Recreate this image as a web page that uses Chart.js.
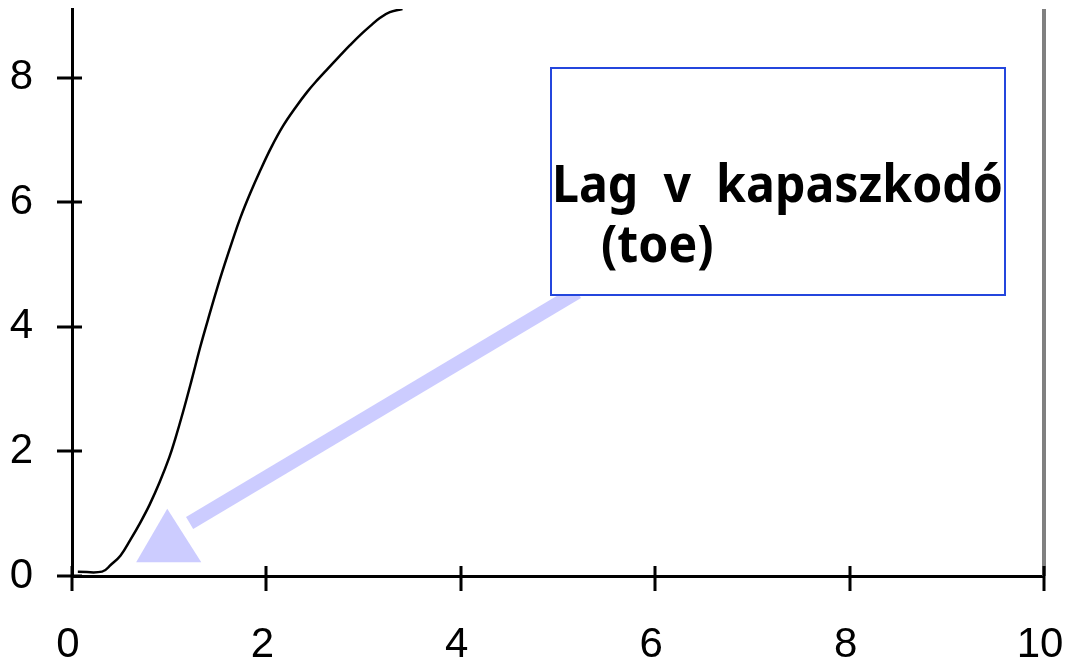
<!DOCTYPE html>
<html>
<head>
<meta charset="utf-8">
<script src="https://cdn.jsdelivr.net/npm/chart.js@4"></script>
<style>
    body { margin: 0; background: #fff; }
    .chart-wrap { width: 1067px; height: 661px; }
</style>
</head>
<body>
<div class="chart-wrap">
    <canvas id="toe-chart" width="1067" height="661"></canvas>
</div>
<script>
// strain (x) vs stress (y), the early "toe" part of the curve
const curveX = [0.06, 0.31, 0.40, 0.50, 0.60, 0.70, 0.80, 0.90, 1.00, 1.06, 1.14, 1.23, 1.32, 1.40, 1.49, 1.57,
    1.65, 1.73, 1.83, 1.94, 2.05, 2.17, 2.30, 2.42, 2.53, 2.63, 2.75, 2.86, 2.97, 3.07, 3.17, 3.27, 3.40];
const curveY = [0.07, 0.07, 0.18, 0.33, 0.58, 0.85, 1.15, 1.50, 1.90, 2.19, 2.62, 3.14, 3.68, 4.12, 4.60, 5.00,
    5.38, 5.74, 6.13, 6.52, 6.88, 7.22, 7.52, 7.77, 7.97, 8.14, 8.34, 8.52, 8.69, 8.83, 8.96, 9.05, 9.10];

const xTicks = [0, 2, 4, 6, 8, 10];
const yTicks = [0, 2, 4, 6, 8];

const calloutLines = ["Lag  v  kapaszkodó", "(toe)"];

// callout placement in data units
const callout = {
    box: {x1: 4.93, y1: 8.15, x2: 9.60, y2: 4.51},
    shaft: {x1: 5.20, y1: 4.56, x2: 1.21, y2: 0.85},
    head: [[0.98, 1.08], [0.66, 0.22], [1.33, 0.22]]
};

// keep label overhang from shrinking the plot area
const noOverhang = (scale) => {
    scale.paddingLeft = 0;
    scale.paddingRight = 0;
    scale.paddingTop = 0;
    scale.paddingBottom = 0;
};

// tick marks that cross the axis line, plus the grey right edge
const crossTicks = {
    id: "crossTicks",
    afterDraw: (chart) => {
        const {ctx, chartArea, scales} = chart;
        ctx.save();
        ctx.strokeStyle = "#000";
        ctx.lineWidth = 3;
        ctx.beginPath();
        yTicks.forEach((v) => {
            const y = Math.round(scales.y.getPixelForValue(v));
            ctx.moveTo(chartArea.left - 15, y);
            ctx.lineTo(chartArea.left + 10, y);
        });
        xTicks.forEach((v) => {
            const x = Math.round(scales.x.getPixelForValue(v));
            ctx.moveTo(x, chartArea.bottom - 10);
            ctx.lineTo(x, chartArea.bottom + 15);
        });
        ctx.stroke();
        ctx.restore();
    },
    beforeDatasetsDraw: (chart) => {
        const {ctx, chartArea} = chart;
        ctx.save();
        ctx.strokeStyle = "#808080";
        ctx.lineWidth = 4;
        ctx.beginPath();
        ctx.moveTo(chartArea.right, chartArea.top);
        ctx.lineTo(chartArea.right, chartArea.bottom);
        ctx.stroke();
        ctx.restore();
    }
};

const calloutPlugin = {
    id: "callout",
    afterDatasetsDraw: (chart) => {
        const {ctx, scales} = chart;
        const px = (v) => scales.x.getPixelForValue(v);
        const py = (v) => scales.y.getPixelForValue(v);
        ctx.save();

        // arrow
        ctx.strokeStyle = "#ccccff";
        ctx.fillStyle = "#ccccff";
        ctx.lineWidth = 14;
        ctx.beginPath();
        ctx.moveTo(px(callout.shaft.x1), py(callout.shaft.y1));
        ctx.lineTo(px(callout.shaft.x2), py(callout.shaft.y2));
        ctx.stroke();
        ctx.beginPath();
        callout.head.forEach(([x, y], i) => {
            if (i === 0) ctx.moveTo(px(x), py(y));
            else ctx.lineTo(px(x), py(y));
        });
        ctx.closePath();
        ctx.fill();

        // box
        const left = Math.round(px(callout.box.x1));
        const top = Math.round(py(callout.box.y1));
        const right = Math.round(px(callout.box.x2));
        const bottom = Math.round(py(callout.box.y2));
        ctx.fillStyle = "#fff";
        ctx.fillRect(left, top, right - left, bottom - top);
        ctx.strokeStyle = "#2446dd";
        ctx.lineWidth = 2;
        ctx.strokeRect(left, top, right - left, bottom - top);

        // text, squeezed to fit the box width
        ctx.font = "bold 52px 'Noto Sans'";
        ctx.fillStyle = "#000";
        ctx.textBaseline = "alphabetic";
        const squeeze = (right - left - 3) / ctx.measureText(calloutLines[0]).width;
        ctx.translate(left + 1, top);
        ctx.scale(squeeze, 1);
        ctx.fillText(calloutLines[0], 0, 134);
        ctx.fillText(calloutLines[1], 49 / squeeze, 194);
        ctx.restore();
    }
};

const tickFont = {family: "'Liberation Sans', Arial, sans-serif", size: 42};

new Chart(document.querySelector("#toe-chart").getContext("2d"), {
    type: "line",
    data: {
        datasets: [{
            data: curveX.map((x, i) => ({x: x, y: curveY[i]})),
            borderColor: "#000",
            borderWidth: 2.5,
            pointRadius: 0,
            fill: false,
            tension: 0.4
        }]
    },
    options: {
        responsive: false,
        animation: false,
        layout: {padding: {left: 0, right: 23, top: 9, bottom: 0}},
        plugins: {legend: {display: false}, tooltip: {enabled: false}},
        scales: {
            x: {
                type: "linear",
                min: 0,
                max: 10,
                afterBuildTicks: (scale) => { scale.ticks = xTicks.map((v) => ({value: v})); },
                afterFit: (scale) => { scale.height = 85; noOverhang(scale); },
                grid: {drawOnChartArea: false, drawTicks: false},
                border: {display: true, color: "#000", width: 3},
                ticks: {color: "#000", font: tickFont, padding: 44, maxRotation: 0, labelOffset: -4}
            },
            y: {
                type: "linear",
                min: 0,
                max: 9.1,
                afterBuildTicks: (scale) => { scale.ticks = yTicks.map((v) => ({value: v})); },
                afterFit: (scale) => { scale.width = 72; noOverhang(scale); },
                grid: {drawOnChartArea: false, drawTicks: false},
                border: {display: true, color: "#000", width: 3},
                ticks: {color: "#000", font: tickFont, padding: 39}
            }
        }
    },
    plugins: [crossTicks, calloutPlugin]
});
</script>
</body>
</html>
